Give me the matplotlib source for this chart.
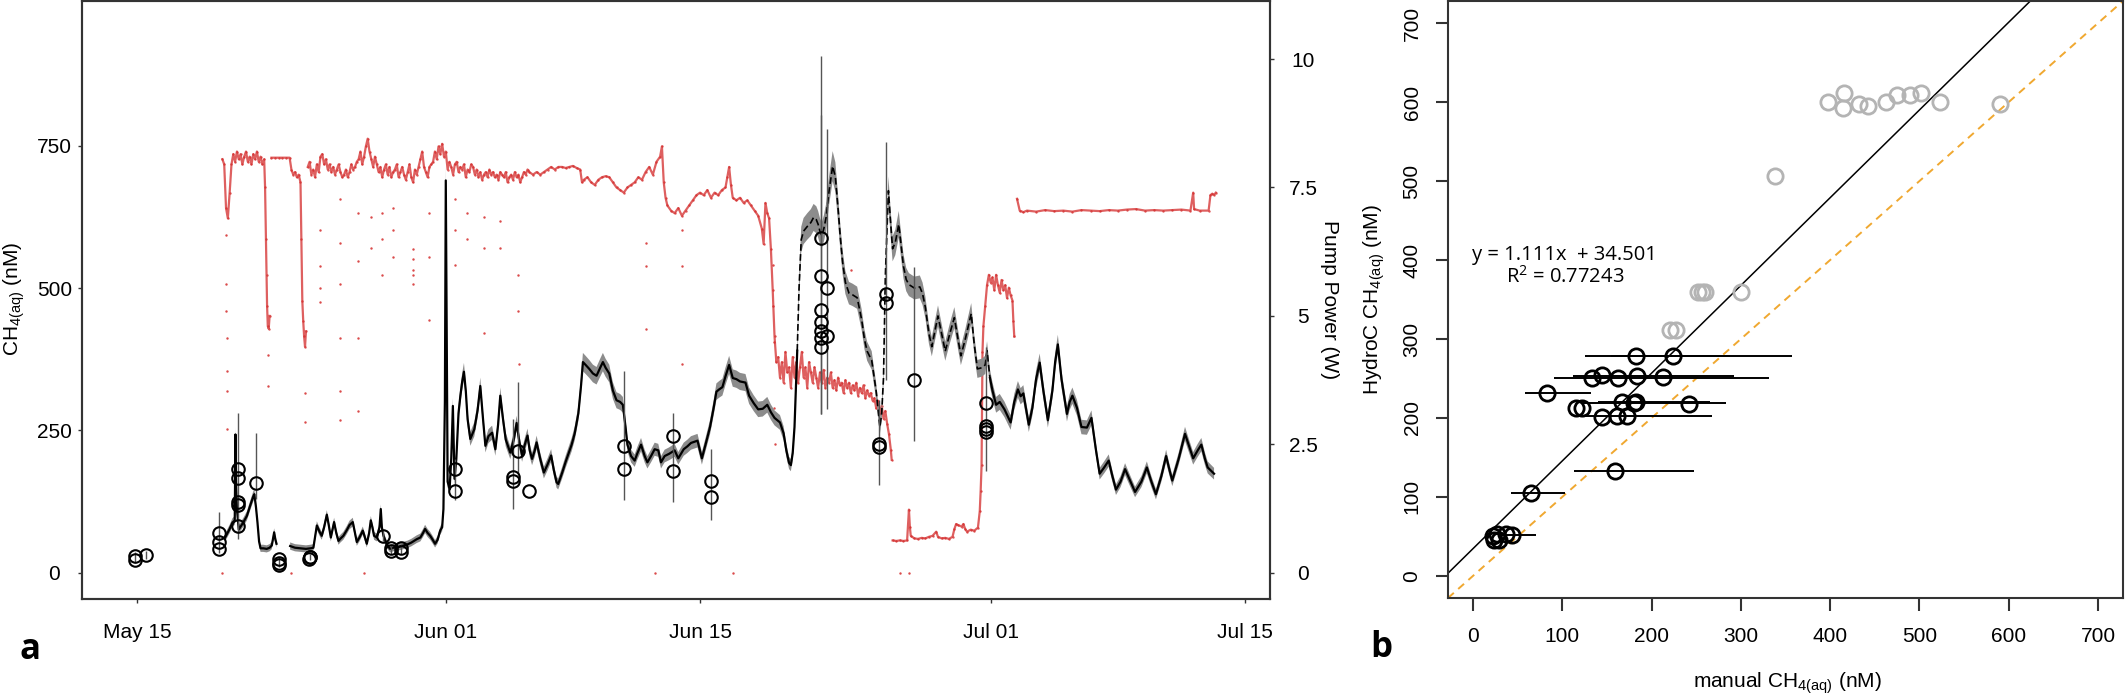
import numpy as np
import matplotlib
matplotlib.use('Agg')
import matplotlib.pyplot as plt
import matplotlib.dates as mdates
from datetime import datetime

nan = np.nan

# ---------------- panel a data (t = days since May 01) ----------------
# HydroC CH4(aq), nM
hydroc_t = [18.85, 18.95, 19.10, 19.25, 19.38, 19.42, 19.46, 19.50, 19.60, 19.72, 19.86, 20.05, 20.23, 20.40,
            20.46, 20.55, 20.63, 20.72, 20.80, 20.95, 21.14, 21.30, 21.42, 21.55, 21.62, 21.68, 22.0,
            22.43, 22.70, 23.00, 23.30, 23.55, 23.71, 23.90, 24.05, 24.17, 24.30, 24.45, 24.55, 24.67, 24.85,
            24.97, 25.09, 25.20, 25.36, 25.55, 25.70, 25.88, 26.00, 26.10, 26.25, 26.43, 26.55, 26.65, 26.78,
            26.87, 26.96, 27.05, 27.20, 27.35, 27.42, 27.48, 27.57, 27.75, 27.93, 28.20, 28.45, 28.67, 28.90,
            29.10, 29.40, 29.60, 29.75, 29.86, 30.00, 30.14, 30.28, 30.41, 30.55, 30.69, 30.80, 30.87, 30.95,
            31.00, 31.05, 31.10, 31.21, 31.30, 31.39, 31.48, 31.58, 31.70, 31.80, 31.90, 32.00, 32.10, 32.20,
            32.35, 32.57, 32.75, 32.90, 33.05, 33.18, 33.35, 33.55, 33.73, 33.88, 34.00, 34.15, 34.30, 34.55,
            34.75, 34.90, 35.05, 35.20, 35.35, 35.50, 35.62, 35.75, 35.90, 36.00, 36.20, 36.40, 36.60, 36.80,
            36.95, 37.10, 37.19, 37.40, 37.60, 37.93, 38.10, 38.30, 38.45, 38.55, 38.70, 38.90, 39.10, 39.30,
            39.50, 39.65, 39.80, 40.00, 40.20, 40.40, 40.60, 40.75, 40.90, 41.00, 41.20, 41.40, 41.55, 41.75,
            41.95, 42.10, 42.30, 42.50, 42.70, 42.85, 43.05, 43.30, 43.60, 43.80, 44.10, 44.30, 44.50, 44.86,
            45.10, 45.30, 45.55, 45.75, 45.90, 46.05, 46.23, 46.40, 46.60, 46.80, 47.00, 47.20, 47.50, 47.70,
            47.95, 48.20, 48.45, 48.70, 48.90, 49.10, 49.40, 49.60, 49.75, 49.90, 50.00, 50.10, 50.20, 50.35,
            50.45, 50.57, 50.70, 50.90, 51.10, 51.25, 51.40, 51.50, 51.60, 51.70, 51.82, 51.94, 52.10, 52.30,
            52.45, 52.60, 52.72, 52.85, 53.00, 53.20, 53.40, 53.65, 53.90, 54.05, 54.20, 54.45, 54.60, 54.70,
            54.90, 55.00, 55.10, 55.20, 55.37, 55.48, 55.60, 55.75, 55.94, 56.05, 56.20, 56.35, 56.50, 56.80,
            57.10, 57.25, 57.40, 57.60, 57.76, 57.90, 58.10, 58.30, 58.50, 58.75, 59.00, 59.15, 59.36, 59.60,
            59.93, 60.10, 60.27, 60.50, 60.70, 60.80, 60.96, 61.10, 61.30, 61.50, 61.76, 62.10, 62.30, 62.50,
            62.65, 62.80, 63.10, 63.30, 63.50, 63.70, 63.90, 64.15, 64.40, 64.55, 64.70, 64.90, 65.20, 65.35,
            65.50, 65.75, 66.00, 66.30, 66.55, 66.80, 67.00, 67.25, 67.50, 67.70, 67.90, 68.15, 68.40, 68.70,
            68.95, 69.30, 69.60, 69.85, 70.10, 70.40, 70.66, 70.85, 71.00, 71.35, 71.70, 71.95, 72.15, 72.40,
            72.60, 72.80, 72.95, 73.30]
hydroc_v = [62, 68, 77, 88, 92, 243, 150, 112, 76, 82, 89, 100, 118, 134,
            138, 115, 89, 55, 43, 43, 42, 44, 48, 71, 58, 51, nan,
            47, 44, 43, 42, 43, 44, 83, 72, 65, 80, 102, 85, 62, 89,
            70, 56, 60, 65, 75, 84, 89, 70, 54, 62, 74, 62, 51, 70,
            92, 80, 65, 62, 80, 112, 80, 65, 50, 42, 45, 46, 48, 50,
            53, 59, 62, 70, 77, 70, 65, 58, 51, 58, 74, 80, 112, 300,
            689, 420, 160, 147, 200, 293, 165, 200, 280, 310, 335, 353, 320, 270,
            235, 252, 285, 328, 270, 223, 240, 246, 217, 260, 311, 270, 234, 211,
            235, 263, 230, 206, 225, 241, 215, 200, 215, 229, 200, 176, 190, 206,
            180, 159, 156, 175, 195, 225, 245, 280, 330, 370, 365, 358, 350, 346,
            360, 370, 360, 350, 320, 303, 300, 295, 255, 225, 205, 197, 210, 225,
            205, 194, 205, 217, 215, 194, 205, 209, 215, 201, 217, 222, 228, 232,
            201, 225, 256, 290, 318, 322, 326, 345, 365, 342, 340, 336, 334, 311,
            298, 287, 288, 295, 282, 272, 264, 245, 215, 193, 189, 210, 256, 390,
            500, 585, 600, 608, 615, 624, 620, 612, 600, 592, 605, 624, 670, 714,
            695, 639, 590, 545, 510, 491, 488, 483, 444, 410, 389, 373, 340, 318,
            256, 280, 342, 520, 671, 620, 569, 580, 612, 580, 538, 515, 506, 500,
            502, 490, 467, 420, 397, 420, 451, 420, 389, 420, 448, 420, 381, 410,
            455, 400, 358, 360, 365, 390, 342, 320, 295, 300, 287, 264, 300, 322,
            310, 315, 260, 290, 340, 369, 320, 268, 320, 370, 401, 340, 279, 300,
            311, 290, 256, 255, 272, 215, 174, 185, 197, 170, 146, 160, 182, 160,
            142, 160, 185, 160, 138, 170, 205, 180, 162, 200, 244, 220, 201, 215,
            225, 200, 185, 174]
hydroc_rel_unc = 0.03
hydroc_abs_unc = 5.0

# manual samples, nM
manual_t = [13.9, 13.9, 14.5, 18.52, 18.52, 18.52, 19.58, 19.58, 19.58, 19.58, 19.58, 20.54,
            21.84, 21.84, 21.84, 23.45, 23.5, 23.55, 27.54, 28.0, 28.0, 28.55, 28.55,
            31.5, 31.5, 34.69, 34.69, 35.0, 35.6, 40.83, 40.83, 43.5, 43.5, 45.6, 45.6,
            51.64, 51.64, 51.64, 51.64, 51.64, 51.64, 51.64, 52.0, 52.0, 54.84, 54.84,
            55.25, 55.25, 56.8, 60.73, 60.73, 60.73, 60.73]
manual_v = [22, 29, 31, 41, 54, 70, 82, 119, 124, 166, 182, 158,
            13, 18, 24, 25, 28, 27, 64, 38, 43, 37, 43,
            183, 144, 168, 161, 213, 144, 223, 182, 241, 179, 162, 133,
            588, 522, 462, 440, 425, 412, 397, 500, 415, 226, 221,
            489, 473, 338, 299, 258, 253, 248]
bar_t = [13.9, 14.5, 18.52, 19.58, 20.54, 21.84, 23.5, 27.54, 28.0, 28.55, 31.5, 34.69, 35.0,
         40.83, 43.5, 45.6, 51.64, 51.64, 52.0, 54.84, 55.25, 56.8, 60.73]
bar_lo = [18, 25, 35, 60, 130, 10, 22, 55, 33, 33, 128, 112, 175,
          127, 125, 92, 279, 279, 287, 154, 338, 232, 178]
bar_hi = [36, 38, 107, 281, 245, 28, 33, 75, 50, 50, 200, 270, 335,
          354, 280, 217, 907, 804, 780, 303, 757, 537, 397]

# pump power, W (nan separates runs)
pump_t = [18.70, 18.80, 18.90, 19.00, 19.10, 19.20, 19.30, 19.40, 19.50, 19.60, 19.70, 19.80, 19.90,
          20.00, 20.10, 20.20, 20.30, 20.40, 20.50, 20.60, 20.70, 20.80, 20.90, 21.00, 21.05, 21.10,
          21.13, 21.16, 21.20, 21.25, 21.30, nan,
          21.40, 21.60, 21.80, 22.00, 22.20, 22.40, 22.50, 22.60, 22.70, 22.80, 22.90, 23.00, 23.05,
          23.10, 23.15, 23.20, 23.25, 23.30, nan,
          23.40, 23.50, 23.60, 23.70, 23.80, 23.90, 24.00, 24.10, 24.20, 24.30, 24.40, 24.50, 24.60,
          24.70, 24.80, 24.90, 25.00, 25.10, 25.20, 25.30, 25.40, 25.50, 25.60, 25.70, 25.80, 25.90,
          26.00, 26.10, 26.20, 26.30, 26.40, 26.50, 26.60, 26.70, 26.80, 26.90, 27.00, 27.10, 27.20,
          27.30, 27.40, 27.50, 27.60, 27.70, 27.80, 27.90, 28.00, 28.10, 28.20, 28.30, 28.40, 28.50,
          28.60, 28.70, 28.80, 28.90, 29.00, 29.10, 29.20, 29.30, 29.40, 29.50, 29.60, 29.70, 29.80,
          29.90, 30.00, 30.10, 30.20, 30.30, 30.40, 30.50, 30.60, 30.70, 30.80, 30.90, 31.00, 31.10,
          31.20, 31.30, 31.40, 31.50, 31.60, 31.70, 31.80, 31.90, 32.00, 32.10, 32.20, 32.30, 32.40,
          32.50, 32.60, 32.70, 32.80, 32.90, 33.00, 33.10, 33.20, 33.30, 33.40, 33.50, 33.60, 33.70,
          33.80, 33.90, 34.00, 34.10, 34.20, 34.30, 34.40, 34.50, 34.60, 34.70, 34.80, 34.90, 35.00,
          35.10, 35.20, 35.30, 35.40, 35.50, 35.60, 35.80, 36.00, 36.20, 36.40, 36.60, 36.80, 37.00,
          37.20, 37.40, 37.60, 37.80, 38.00, 38.20, 38.40, 38.50, 38.60, 38.80, 39.00, 39.20, 39.40,
          39.60, 39.80, 40.00, 40.20, 40.40, 40.60, 40.80, 41.00, 41.20, 41.40, 41.60, 41.80, 42.00,
          42.20, 42.40, 42.60, 42.80, 42.90, 43.00, 43.10, 43.20, 43.40, 43.60, 43.80, 44.00, 44.20,
          44.40, 44.60, 44.80, 45.00, 45.20, 45.40, 45.60, 45.80, 46.00, 46.20, 46.40, 46.50, 46.60,
          46.70, 46.80, 47.00, 47.20, 47.40, 47.60, 47.80, 48.00, 48.20, 48.40, 48.50, 48.60, 48.70,
          48.80, 48.90, 49.00, 49.10, 49.20, 49.30, 49.40, 49.50, 49.60, 49.70, 49.80, 49.90, 50.00,
          50.10, 50.20, 50.30, 50.40, 50.50, 50.60, 50.70, 50.80, 50.90, 51.00, 51.10, 51.20, 51.30,
          51.40, 51.50, 51.60, 51.70, 51.80, 51.90, 52.00, 52.10, 52.20, 52.30, 52.40, 52.50, 52.60,
          52.70, 52.80, 52.90, 53.00, 53.10, 53.20, 53.30, 53.40, 53.50, 53.60, 53.70, 53.80, 53.90,
          54.00, 54.10, 54.20, 54.30, 54.40, 54.50, 54.60, 54.70, 54.80, 54.90, 55.00, 55.10, 55.20,
          55.30, 55.40, 55.50, 55.55, nan,
          55.60, 55.80, 56.00, 56.20, 56.40, 56.50, 56.55, 56.60, 56.80, 57.00, 57.20, 57.40, 57.60,
          57.80, 58.00, 58.10, 58.30, 58.50, 58.70, 58.90, 59.00, 59.10, 59.20, 59.40, 59.50, 59.60,
          59.70, 59.90, 60.10, 60.30, 60.40, 60.45, 60.50, 60.55, 60.60, 60.70, 60.80, 60.90, 61.00,
          61.10, 61.20, 61.30, 61.40, 61.50, 61.60, 61.70, 61.80, 61.90, 62.00, 62.10, 62.20, 62.25,
          62.30, nan,
          62.45, 62.60, 62.80, 63.00, 63.50, 64.00, 64.50, 65.00, 65.50, 66.00, 66.50, 67.00, 67.50,
          68.00, 68.50, 69.00, 69.50, 70.00, 70.50, 71.00, 71.50, 72.00, 72.15, 72.20, 72.50, 73.00,
          73.10, 73.20, 73.30, 73.40]
pump_w = [8.05, 7.95, 7.10, 6.90, 7.40, 7.95, 8.15, 8.00, 8.20, 8.05, 8.15, 7.95, 8.10,
          8.20, 8.00, 8.10, 7.95, 8.15, 8.05, 8.20, 8.00, 8.10, 7.95, 8.05, 7.50, 6.50,
          5.80, 5.20, 4.80, 4.75, 5.00, nan,
          8.08, 8.08, 8.08, 8.08, 8.08, 8.08, 7.85, 7.75, 7.80, 7.70, 7.75, 7.60, 6.50,
          5.30, 4.90, 4.60, 4.40, 4.70, nan,
          7.90, 8.00, 7.75, 7.85, 7.70, 7.95, 7.80, 8.10, 8.15, 7.95, 8.05, 7.85, 7.95,
          7.80, 7.90, 7.75, 7.85, 7.95, 7.80, 7.70, 7.75, 7.85, 7.70, 7.80, 7.95, 7.85,
          7.90, 8.00, 8.05, 8.20, 7.95, 8.10, 8.30, 8.45, 8.20, 8.05, 7.90, 8.10, 7.95,
          7.80, 7.90, 7.70, 7.85, 7.95, 7.75, 7.90, 7.70, 7.80, 7.85, 7.95, 7.70, 7.80,
          7.90, 7.75, 7.65, 7.80, 7.95, 7.70, 7.60, 7.85, 7.75, 7.90, 8.05, 8.20, 7.90,
          7.80, 7.70, 7.90, 7.95, 8.00, 8.20, 8.05, 8.30, 8.15, 8.35, 8.10, 8.20, 7.85,
          8.00, 7.90, 7.75, 7.95, 8.00, 7.80, 7.90, 7.85, 7.95, 7.70, 7.85, 7.80, 7.95,
          7.90, 7.75, 7.85, 7.70, 7.80, 7.65, 7.75, 7.80, 7.70, 7.85, 7.75, 7.80, 7.70,
          7.75, 7.65, 7.80, 7.75, 7.70, 7.80, 7.60, 7.70, 7.75, 7.65, 7.80, 7.70, 7.75,
          7.60, 7.70, 7.80, 7.75, 7.85, 7.80, 7.75, 7.80, 7.75, 7.80, 7.85, 7.90, 7.85,
          7.90, 7.90, 7.88, 7.90, 7.92, 7.88, 7.85, 7.60, 7.65, 7.70, 7.60, 7.55, 7.65,
          7.70, 7.72, 7.70, 7.60, 7.50, 7.45, 7.40, 7.50, 7.55, 7.60, 7.70, 7.65, 7.80,
          7.90, 7.75, 8.00, 8.10, 8.30, 7.60, 7.30, 7.15, 7.05, 7.00, 7.10, 6.95, 7.05,
          7.15, 7.25, 7.35, 7.40, 7.35, 7.45, 7.30, 7.40, 7.35, 7.45, 7.50, 7.70, 7.90,
          7.55, 7.30, 7.25, 7.30, 7.20, 7.25, 7.15, 7.05, 6.95, 6.70, 6.40, 7.20, 7.00,
          6.90, 6.30, 5.50, 4.60, 4.10, 4.20, 3.80, 4.10, 3.70, 4.30, 3.90, 4.00, 3.60,
          4.20, 3.80, 4.10, 3.70, 4.00, 4.30, 3.80, 4.00, 3.60, 4.10, 3.90, 3.70, 4.00,
          3.80, 3.60, 3.90, 3.70, 3.95, 3.60, 3.80, 3.70, 3.90, 3.60, 3.75, 3.55, 3.80,
          3.65, 3.70, 3.50, 3.75, 3.60, 3.70, 3.50, 3.65, 3.55, 3.70, 3.45, 3.60, 3.50,
          3.65, 3.40, 3.55, 3.45, 3.50, 3.35, 3.40, 3.20, 3.35, 3.10, 3.25, 3.00, 3.15,
          2.90, 2.70, 2.40, 2.20, nan,
          0.63, 0.62, 0.63, 0.62, 0.63, 1.23, 0.90, 0.72, 0.67, 0.66, 0.68, 0.67, 0.70,
          0.72, 0.80, 0.70, 0.67, 0.68, 0.66, 0.70, 0.85, 0.95, 0.93, 0.90, 0.95, 0.85,
          0.80, 0.84, 0.82, 0.88, 1.20, 1.60, 2.10, 4.30, 4.80, 5.20, 5.60, 5.80, 5.65,
          5.75, 5.50, 5.80, 5.60, 5.45, 5.70, 5.50, 5.60, 5.35, 5.55, 5.40, 5.30, 4.90,
          4.60, nan,
          7.28, 7.05, 7.02, 7.05, 7.03, 7.06, 7.04, 7.05, 7.03, 7.06, 7.05, 7.04, 7.06,
          7.05, 7.07, 7.08, 7.05, 7.06, 7.05, 7.06, 7.07, 7.05, 7.40, 7.08, 7.05, 7.05,
          7.35, 7.38, 7.36, 7.40]

# isolated pump power readings
stray_t = [18.88, 18.90, 18.92, 18.93, 18.95, 18.95, 18.97, 21.20, 21.22, 23.25, 23.27,
           24.05, 24.05, 24.06, 24.06, 25.15, 25.15, 25.16, 25.16, 25.17, 25.17,
           26.14, 26.14, 26.15, 26.15, 26.87, 26.87, 27.50, 27.50, 27.51, 28.10, 28.10, 28.11,
           29.18, 29.19, 29.20, 29.21, 29.22, 30.07, 30.07, 30.08, 31.50, 31.50, 31.51,
           32.15, 32.15, 33.10, 33.10, 33.11, 34.00, 34.00, 35.00, 35.00, 35.01,
           42.00, 42.00, 42.01, 44.00, 44.00, 44.01, 49.02, 49.04, 49.06, 49.08, 49.10, 53.30,
           18.68, 22.50, 26.50, 42.50, 46.80, 56.00, 56.50]
stray_w = [6.58, 5.63, 5.10, 4.58, 3.93, 3.54, 2.80, 4.23, 3.63, 3.50, 2.93,
           6.67, 5.97, 5.54, 5.28, 7.28, 6.41, 5.63, 4.58, 3.54, 2.97,
           7.00, 6.06, 4.58, 3.15, 6.93, 6.32, 7.00, 6.50, 5.80, 7.10, 6.67, 6.15,
           6.30, 5.80, 5.63, 5.90, 6.10, 7.00, 6.15, 4.93, 7.28, 6.67, 6.00,
           7.00, 6.50, 6.93, 6.32, 4.67, 6.84, 6.32, 5.80, 5.10, 4.06,
           6.41, 5.97, 4.75, 6.67, 5.97, 4.06, 6.00, 5.20, 4.50, 3.20, 2.50, 5.90,
           0, 0, 0, 0, 0, 0, 0]

date_ticks = [datetime(2018, 5, 15), datetime(2018, 6, 1), datetime(2018, 6, 15),
              datetime(2018, 7, 1), datetime(2018, 7, 15)]

# ---------------- panel b data ----------------
excl_manual = [398, 415, 414, 432, 442, 462, 475, 489, 502, 523, 590, 338, 252, 257, 260, 300, 221, 227]
excl_hydroc = [600, 611, 593, 597, 595, 600, 609, 609, 611, 600, 598, 506, 360, 360, 360, 360, 312, 312]
incl_manual = [182, 224, 133, 145, 162, 184, 213, 83, 115, 122, 167, 180, 182, 242, 144, 161, 173,
               159, 65, 22, 24, 29, 37, 44, 27]
incl_hydroc = [279, 279, 251, 254, 251, 253, 252, 231, 213, 213, 220, 219, 220, 218, 201, 203, 203,
               133, 105, 51, 46, 46, 53, 52, 53]
xbar_y = [279, 279, 251, 253, 231, 219, 220, 203, 133, 105, 52]
xbar_lo = [125, 155, 91, 112, 58, 123, 140, 123, 113, 42, 30]
xbar_hi = [288, 357, 332, 292, 132, 283, 265, 268, 247, 103, 71]
fit_slope = 1.111
fit_icpt = 34.501
fit_r2 = 0.77243


def main():
    plt.rcParams['font.family'] = ['Liberation Sans', 'DejaVu Sans']
    plt.rcParams['mathtext.fontset'] = 'custom'
    plt.rcParams['mathtext.rm'] = 'Liberation Sans'
    W, H = 2125, 698
    fig = plt.figure(figsize=(W / 100, H / 100), dpi=100)
    spine_col = '#333333'
    red = '#d42b2b'

    # ---------- panel a ----------
    ax1 = fig.add_axes([82 / W, 1 - 599 / H, (1270 - 82) / W, 598 / H])
    ax2 = ax1.twinx()
    ax1.set_zorder(ax2.get_zorder() + 1)
    ax1.patch.set_visible(False)

    base = mdates.date2num(datetime(2018, 5, 1))
    ht = base + np.array(hydroc_t)
    hv = np.array(hydroc_v, dtype=float)
    unc = hydroc_rel_unc * hv + hydroc_abs_unc
    ax1.fill_between(ht, hv - unc, hv + unc, color='#8c8c8c', lw=0, zorder=2)
    tt = np.array(hydroc_t)
    high = (tt >= 50.35) & (tt <= 60.96)
    low = (tt <= 50.35) | (tt >= 60.96)
    ax1.plot(ht, np.where(low, hv, nan), color='black', lw=1.6, zorder=3)
    ax1.plot(ht, np.where(high, hv, nan), color='black', lw=1.2, dashes=(4, 2), zorder=3)

    ax1.vlines(base + np.array(bar_t), bar_lo, bar_hi, color='#555555', lw=1.0, zorder=4)
    ax1.plot(base + np.array(manual_t), manual_v, ls='none', marker='o', ms=9, mfc='none',
             mec='black', mew=1.5, zorder=5)

    pt = base + np.array(pump_t)
    ax2.plot(pt, pump_w, color=red, lw=1.6, alpha=0.75, marker='.', ms=3.5, mew=0)
    ax2.plot(base + np.array(stray_t), stray_w, ls='none', color=red, marker='.', ms=3.5, mew=0, alpha=0.85)

    ax1.set_xlim(base + 10.97, base + 76.38)
    ax1.set_ylim(-46, 1004)
    ax2.set_ylim(-0.51, 11.13)

    ax1.set_xticks(mdates.date2num(date_ticks))
    ax1.xaxis.set_major_formatter(mdates.DateFormatter('%b %d'))
    ax1.set_yticks([0, 250, 500, 750])
    ax1.set_yticklabels(['0', '250', '500', '750'], ha='center')
    ax2.set_yticks([0, 2.5, 5, 7.5, 10])
    ax2.set_yticklabels(['0', '2.5', '5', '7.5', '10'], ha='center')
    for ax in (ax1, ax2):
        ax.tick_params(length=3, width=1, color=spine_col, labelsize=15)
        for s in ax.spines.values():
            s.set_color(spine_col)
            s.set_linewidth(1.5)
    ax1.tick_params(axis='x', pad=14)
    ax1.tick_params(axis='y', pad=17)
    ax2.tick_params(axis='y', pad=21)

    fig.text(14 / W, 1 - 299 / H, 'CH$\\mathregular{_{4(aq)}}$ (nM)', rotation=90,
             ha='center', va='center', fontsize=15)
    fig.text(1330 / W, 1 - 300 / H, 'Pump Power (W)', rotation=270,
             ha='center', va='center', fontsize=15)

    # ---------- panel b ----------
    ax3 = fig.add_axes([1448 / W, 1 - 598 / H, (2123 - 1448) / W, 597 / H])
    ax3.set_xlim(-28, 728)
    ax3.set_ylim(-28, 728)
    xs = np.array([-28, 728])
    ax3.plot(xs, xs, color='#f0a830', lw=1.4, dashes=(4, 3), zorder=2)
    ax3.plot(xs, fit_slope * xs + fit_icpt, color='black', lw=1.1, zorder=2)
    ax3.hlines(xbar_y, xbar_lo, xbar_hi, color='black', lw=1.4, zorder=3)
    ax3.plot(excl_manual, excl_hydroc, ls='none', marker='o', ms=11, mfc='none',
             mec='#b4b4b4', mew=2, zorder=4)
    ax3.plot(incl_manual, incl_hydroc, ls='none', marker='o', ms=11, mfc='none',
             mec='black', mew=2, zorder=5)
    ax3.text(102, 406, 'y = %.3fx  + %.3f' % (fit_slope, fit_icpt), ha='center', va='center',
             fontsize=14.5, family=['Open Sans', 'DejaVu Sans'])
    ax3.text(103, 379, 'R$\\mathregular{^2}$ = %.5f' % fit_r2, ha='center', va='center',
             fontsize=14.5, family=['Open Sans', 'DejaVu Sans'])
    ticks = [0, 100, 200, 300, 400, 500, 600, 700]
    ax3.set_xticks(ticks)
    ax3.set_yticks(ticks)
    ax3.set_yticklabels([str(v) for v in ticks], rotation=90, va='center')
    ax3.tick_params(length=9, width=1.5, color=spine_col, labelsize=15)
    ax3.tick_params(axis='x', pad=12)
    ax3.tick_params(axis='y', pad=10)
    for s in ax3.spines.values():
        s.set_color(spine_col)
        s.set_linewidth(1.5)
    fig.text(1374 / W, 1 - 300 / H, 'HydroC CH$\\mathregular{_{4(aq)}}$ (nM)', rotation=90,
             ha='center', va='center', fontsize=15)
    fig.text(1787 / W, 1 - 683 / H, 'manual CH$\\mathregular{_{4(aq)}}$ (nM)',
             ha='center', va='center', fontsize=15)

    fig.text(30 / W, 1 - 650 / H, 'a', ha='center', va='center', fontsize=25,
             fontweight='bold', family=['Open Sans', 'DejaVu Sans'])
    fig.text(1381 / W, 1 - 648 / H, 'b', ha='center', va='center', fontsize=25,
             fontweight='bold', family=['Open Sans', 'DejaVu Sans'])

    fig.savefig('out.png', dpi=100)


if __name__ == '__main__':
    main()
